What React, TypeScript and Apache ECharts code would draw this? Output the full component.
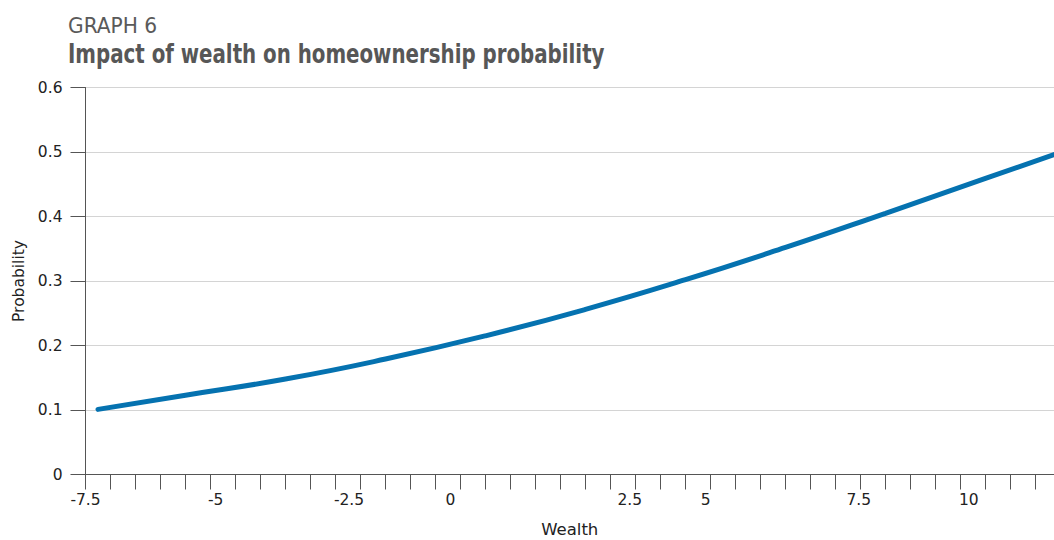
import React, { useEffect, useRef } from "react";
import * as echarts from "echarts";

// x positions are expressed in tick-slot units along the wealth axis (one slot per minor tick)
const wealthPos = [0.5, 4, 8, 12, 16, 20, 24, 28, 32, 36, 38.74];
const probability = [0.101, 0.123, 0.148, 0.179, 0.215, 0.256, 0.302, 0.352, 0.405, 0.459, 0.496];

const tickSlots = Array.from({ length: 39 }, (_, i) => i);
const wealthLabelPos = [0, 5.21, 10.54, 14.6, 21.77, 24.81, 30.93, 35.33];
const wealthLabels = ["-7.5", "-5", "-2.5", "0", "2.5", "5", "7.5", "10"];

const graphLabel = "GRAPH 6";
const chartTitle = "Impact of wealth on homeownership probability";

const titleFont = "'DejaVu Sans Condensed', 'DejaVu Sans', sans-serif";
const bodyFont = "'DejaVu Sans', 'Noto Sans', sans-serif";

export default function App() {
  const ref = useRef<HTMLDivElement>(null);
  useEffect(() => {
    const chart = echarts.init(ref.current!, null, { renderer: "svg" });
    chart.setOption({
      animation: false,
      backgroundColor: "#ffffff",
      graphic: [
        {
          type: "text",
          x: 68,
          y: 14,
          scaleX: 1.02,
          style: {
            text: graphLabel,
            font: `normal 22px ${titleFont}`,
            fill: "#5a5a5a",
            verticalAlign: "top",
          },
        },
        {
          type: "text",
          x: 68,
          y: 40,
          scaleX: 0.816,
          style: {
            text: chartTitle,
            font: `bold 27px ${titleFont}`,
            fill: "#575757",
            verticalAlign: "top",
          },
        },
      ],
      grid: { left: 85.5, right: 0, top: 87.5, bottom: 65.5, outerBoundsMode: "none", containLabel: false },
      xAxis: {
        type: "value",
        min: 0,
        max: 38.74,
        name: "Wealth",
        nameLocation: "middle",
        nameGap: 46,
        nameTextStyle: { fontFamily: bodyFont, fontSize: 16.5, color: "#222" },
        axisLine: { show: true, lineStyle: { color: "#555", width: 1 } },
        axisTick: { show: true, customValues: tickSlots, length: 15, lineStyle: { color: "#555" } },
        axisLabel: {
          customValues: wealthLabelPos,
          showMinLabel: true,
          showMaxLabel: true,
          margin: 17,
          fontFamily: bodyFont,
          fontSize: 15.5,
          color: "#222",
          formatter: (v: number) => {
            let best = 0;
            for (let i = 0; i < wealthLabelPos.length; i++) {
              if (Math.abs(wealthLabelPos[i] - v) < Math.abs(wealthLabelPos[best] - v)) best = i;
            }
            return wealthLabels[best];
          },
        },
        splitLine: { show: false },
      },
      yAxis: {
        type: "value",
        min: 0,
        max: 0.6,
        interval: 0.1,
        name: "Probability",
        nameLocation: "middle",
        nameGap: 59,
        nameTextStyle: { fontFamily: bodyFont, fontSize: 15.5, color: "#222" },
        axisLine: { show: true, lineStyle: { color: "#555", width: 1 } },
        axisTick: { show: true, length: 15, lineStyle: { color: "#555" } },
        axisLabel: {
          margin: 23,
          fontFamily: bodyFont,
          fontSize: 15.5,
          color: "#222",
          formatter: (v: number) => (Math.abs(v) < 1e-9 ? "0" : String(Math.round(v * 10) / 10)),
        },
        splitLine: { show: true, lineStyle: { color: "#d4d4d4", width: 1 } },
      },
      series: [
        {
          type: "line",
          data: wealthPos.map((x, i) => [x, probability[i]]),
          smooth: true,
          showSymbol: false,
          symbol: "none",
          lineStyle: { color: "#0572b0", width: 5, cap: "round" },
          clip: true,
        },
      ],
    });
    return () => chart.dispose();
  }, []);
  return (
    <div
      ref={ref}
      style={{ position: "fixed", left: 0, top: 0, width: 1054, height: 540, background: "#fff" }}
    />
  );
}
